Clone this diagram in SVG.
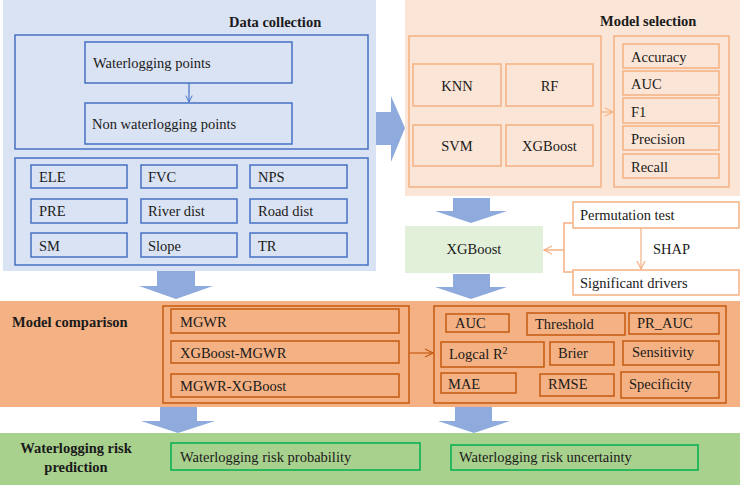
<svg xmlns="http://www.w3.org/2000/svg" width="740" height="485" viewBox="0 0 740 485" font-family="'Liberation Serif', 'Times New Roman', Tinos, 'Nimbus Roman', 'DejaVu Serif', serif">
<defs>
<style>
text{font-family:'Liberation Serif','Times New Roman',Tinos,'Nimbus Roman','DejaVu Serif',serif;font-size:14.5px;fill:#1a1a1a}
.b{font-weight:bold}
.m{text-anchor:middle}
.bl{fill:none;stroke:#4472c4;stroke-width:1.5}
.ol{fill:none;stroke:#f4b183;stroke-width:1.5}
.ow{fill:#fff;stroke:#f4b183;stroke-width:1.5}
.od{fill:none;stroke:#c55a11;stroke-width:1.5}
.gd{fill:none;stroke:#00b050;stroke-width:1.5}
.big{fill:#8faadc}
</style>
<marker id="ab" viewBox="0 0 10 10" refX="9" refY="5" markerWidth="8" markerHeight="8" markerUnits="userSpaceOnUse" orient="auto"><path d="M1,1 L9,5 L1,9" fill="none" stroke="#4472c4" stroke-width="1.2"/></marker>
<marker id="ao" viewBox="0 0 10 10" refX="9" refY="5" markerWidth="10" markerHeight="10" markerUnits="userSpaceOnUse" orient="auto"><path d="M1,1 L9,5 L1,9" fill="none" stroke="#f4b183" stroke-width="1.2"/></marker>
<marker id="ad" viewBox="0 0 10 10" refX="9" refY="5" markerWidth="10" markerHeight="10" markerUnits="userSpaceOnUse" orient="auto"><path d="M1,1 L9,5 L1,9" fill="none" stroke="#c55a11" stroke-width="1.2"/></marker>
</defs>
<rect width="740" height="485" fill="#fff"/>

<g id="data-collection">
<rect x="3" y="0" width="373" height="271" fill="#dae3f3"/>
<text class="b" x="229" y="27">Data collection</text>
<rect class="bl" x="15" y="35" width="353" height="114"/>
<rect class="bl" x="15" y="158" width="353" height="107"/>
</g>
<g id="n-water"><rect class="bl" x="85" y="42" width="207" height="41"/><text x="93" y="68">Waterlogging points</text></g>
<g id="n-nonwater"><rect class="bl" x="85" y="103" width="207" height="41"/><text x="92" y="129">Non waterlogging points</text></g>
<g id="n-ele"><rect class="bl" x="31" y="165" width="96" height="23"/><text x="39" y="182">ELE</text></g>
<g id="n-fvc"><rect class="bl" x="141" y="165" width="96" height="23"/><text x="148" y="182">FVC</text></g>
<g id="n-nps"><rect class="bl" x="250" y="165" width="97" height="23"/><text x="258" y="182">NPS</text></g>
<g id="n-pre"><rect class="bl" x="31" y="199" width="96" height="24"/><text x="39" y="216">PRE</text></g>
<g id="n-river"><rect class="bl" x="141" y="199" width="96" height="24"/><text x="148" y="216">River dist</text></g>
<g id="n-road"><rect class="bl" x="250" y="199" width="97" height="24"/><text x="258" y="216">Road dist</text></g>
<g id="n-sm"><rect class="bl" x="31" y="233" width="96" height="24"/><text x="39" y="251">SM</text></g>
<g id="n-slope"><rect class="bl" x="141" y="233" width="96" height="24"/><text x="148" y="251">Slope</text></g>
<g id="n-tr"><rect class="bl" x="250" y="233" width="97" height="24"/><text x="258" y="251">TR</text></g>

<g id="model-selection">
<rect x="405" y="0" width="335" height="196" fill="#fbe5d6"/>
<text class="b" x="600" y="26">Model selection</text>
<rect class="ol" x="409" y="36" width="192" height="151"/>
<rect class="ol" x="614" y="36" width="115" height="151"/>
</g>
<g id="n-knn"><rect class="ol" x="413" y="64" width="88" height="42"/><text class="m" x="457" y="91">KNN</text></g>
<g id="n-rf"><rect class="ol" x="506" y="64" width="87" height="42"/><text class="m" x="549.5" y="91">RF</text></g>
<g id="n-svm"><rect class="ol" x="413" y="125" width="88" height="41"/><text class="m" x="457" y="151">SVM</text></g>
<g id="n-xgb-sel"><rect class="ol" x="506" y="125" width="87" height="41"/><text class="m" x="549.5" y="151">XGBoost</text></g>
<g id="n-accuracy"><rect class="ol" x="623" y="44" width="96" height="24"/><text x="631" y="62">Accuracy</text></g>
<g id="n-auc1"><rect class="ol" x="623" y="71" width="96" height="24"/><text x="631" y="89">AUC</text></g>
<g id="n-f1"><rect class="ol" x="623" y="98" width="96" height="25"/><text x="631" y="117">F1</text></g>
<g id="n-precision"><rect class="ol" x="623" y="126" width="96" height="24"/><text x="631" y="144">Precision</text></g>
<g id="n-recall"><rect class="ol" x="623" y="154" width="96" height="24"/><text x="631" y="172">Recall</text></g>

<g id="n-xgb"><rect x="405" y="226" width="138" height="47" fill="#e2f0d9"/><text class="m" x="474" y="254">XGBoost</text></g>
<g id="n-perm"><rect class="ow" x="573" y="202" width="166" height="26"/><text x="580" y="220">Permutation test</text></g>
<g id="n-sig"><rect class="ow" x="573" y="270" width="166" height="25"/><text x="580" y="288">Significant drivers</text></g>

<g id="model-comparison">
<rect x="0" y="301" width="740" height="106" fill="#f4b183"/>
<text class="b" x="12" y="327">Model comparison</text>
<rect class="od" x="163" y="306" width="246" height="97"/>
<rect class="od" x="434" y="306" width="292" height="97"/>
</g>
<g id="n-mgwr"><rect class="od" x="171" y="309" width="228" height="24"/><text x="180" y="327">MGWR</text></g>
<g id="n-xgb-mgwr"><rect class="od" x="171" y="341" width="228" height="22"/><text x="180" y="358">XGBoost-MGWR</text></g>
<g id="n-mgwr-xgb"><rect class="od" x="171" y="374" width="228" height="23"/><text x="180" y="391">MGWR-XGBoost</text></g>
<g id="n-auc2"><rect class="od" x="446" y="314" width="63" height="18"/><text x="455" y="328">AUC</text></g>
<g id="n-threshold"><rect class="od" x="527" y="313" width="98" height="22"/><text x="535" y="329">Threshold</text></g>
<g id="n-prauc"><rect class="od" x="629" y="313" width="90" height="21"/><text x="637" y="328">PR_AUC</text></g>
<g id="n-logcal"><rect class="od" x="441" y="342" width="103" height="25"/><text x="449" y="359">Logcal R<tspan dy="-5" font-size="10">2</tspan></text></g>
<g id="n-brier"><rect class="od" x="550" y="342" width="64" height="23"/><text x="558" y="358">Brier</text></g>
<g id="n-sens"><rect class="od" x="623" y="341" width="96" height="24"/><text x="632" y="357">Sensitivity</text></g>
<g id="n-mae"><rect class="od" x="441" y="373" width="75" height="20"/><text x="448" y="389">MAE</text></g>
<g id="n-rmse"><rect class="od" x="540" y="374" width="74" height="22"/><text x="548" y="389">RMSE</text></g>
<g id="n-spec"><rect class="od" x="621" y="372" width="98" height="26"/><text x="629" y="389">Specificity</text></g>

<g id="risk-prediction">
<rect x="0" y="433" width="740" height="52" fill="#a9d18e"/>
<text class="b m" x="76" y="453">Waterlogging risk</text>
<text class="b m" x="76" y="472">prediction</text>
</g>
<g id="n-prob"><rect class="gd" x="171" y="443" width="249" height="27"/><text x="180" y="462">Waterlogging risk probability</text></g>
<g id="n-unc"><rect class="gd" x="451" y="445" width="247" height="25"/><text x="459" y="462">Waterlogging risk uncertainty</text></g>

<g id="connectors">
<polygon class="big" points="376,112 391,112 391,96 405,128 391,162 391,145 376,145"/>
<polygon class="big" points="157,271 195,271 195,286 213,286 176,299 139,286 157,286"/>
<polygon class="big" points="453,198 490,198 490,211 507,211 471,223 435,211 453,211"/>
<polygon class="big" points="453,274 490,274 490,287 507,287 471,299 435,287 453,287"/>
<polygon class="big" points="160,407 197,407 197,421 215,421 178,433 141,421 160,421"/>
<polygon class="big" points="455,407 492,407 492,421 510,421 474,433 438,421 455,421"/>
<line x1="189" y1="83" x2="189" y2="102" stroke="#4472c4" stroke-width="1.2" marker-end="url(#ab)"/>
<line x1="601" y1="112" x2="613" y2="112" stroke="#f4b183" stroke-width="1.2" marker-end="url(#ao)"/>
<polyline points="573,223 564,223 564,272 573,272" fill="none" stroke="#f4b183" stroke-width="1.5"/>
<line x1="564" y1="250" x2="544" y2="250" stroke="#f4b183" stroke-width="1.5" marker-end="url(#ao)"/>
<line x1="641" y1="228" x2="641" y2="269" stroke="#f4b183" stroke-width="1.2" marker-end="url(#ao)"/>
<text x="653" y="254">SHAP</text>
<line x1="409" y1="353" x2="433" y2="353" stroke="#c55a11" stroke-width="1.2" marker-end="url(#ad)"/>
</g>
</svg>
